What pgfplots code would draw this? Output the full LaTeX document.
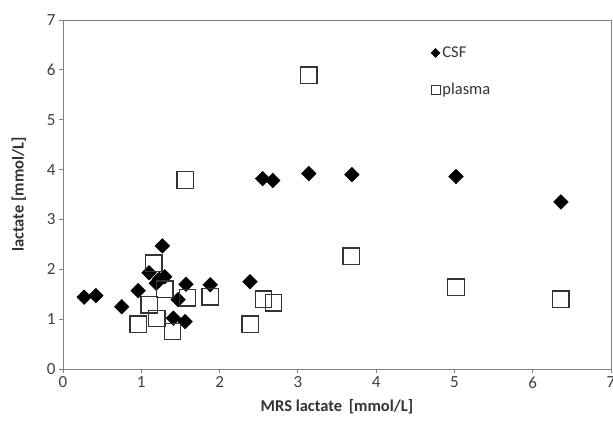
\documentclass[border=0pt]{standalone}
\usepackage{fontspec}
\setmainfont{Carlito}
\usepackage{pgfplots}
\pgfplotsset{compat=1.18}
\begin{document}
\begin{tikzpicture}
\begin{axis}[
  name=ax,
  scale only axis,
  width=548pt, height=349pt,
  xmin=0, xmax=7, ymin=0, ymax=7,
  xtick={0,...,7}, ytick={0,...,7},
  tick align=outside,
  xtick pos=bottom, ytick pos=left,
  major tick length=4pt,
  axis line style={draw=black!50, line width=0.9pt},
  every tick/.style={draw=black!50, line width=0.8pt},
  /pgf/number format/assume math mode=true,
  ticklabel style={font=\fontsize{17}{19}\selectfont, text=black!75},
  xlabel={\textbf{MRS lactate\, [mmol/L]}},
  ylabel={\textbf{lactate [mmol/L]}},
  label style={font=\fontsize{16.5}{18}\selectfont, text=black!80},
  xlabel style={yshift=-4pt},
  ylabel style={yshift=14pt},
]
\addplot[only marks, mark=square*, mark size=5.2pt, mark options={rotate=45, fill=black, draw=black}]
  coordinates {
  (0.27,1.44) (0.42,1.47) (0.75,1.25) (0.96,1.57) (1.10,1.93) (1.19,1.72)
  (1.27,2.47) (1.30,1.85) (1.23,1.80) (1.57,1.70) (1.47,1.39) (1.41,1.02)
  (1.56,0.95) (1.88,1.69) (2.39,1.75) (2.55,3.82) (2.68,3.78) (3.14,3.92)
  (3.69,3.90) (5.02,3.86) (6.36,3.35)
  };
\addplot[only marks, mark=square, mark size=8.2pt, mark options={draw=black!80, line width=1.3pt, fill=none}]
  coordinates {
  (1.56,3.79) (3.14,5.89) (3.68,2.26) (5.02,1.64) (6.36,1.40) (2.39,0.90)
  (2.56,1.40) (2.69,1.33) (1.88,1.45) (1.59,1.43) (0.96,0.90) (1.20,1.01)
  (1.40,0.75) (1.10,1.29) (1.16,2.12) (1.30,1.60)
  };
\end{axis}
\begin{axis}[
  scale only axis, width=548pt, height=349pt,
  xmin=0, xmax=7, ymin=0, ymax=7, hide axis,
  legend style={draw=none, fill=none, at={(0.665,0.935)}, anchor=north west,
    font=\fontsize{16.5}{18}\selectfont, text=black!80, row sep=20pt,
    /tikz/every even column/.style={inner xsep=1pt}},
  legend cell align=left,
]
\addlegendimage{legend image code/.code={\fill[black] (0.3cm,0cm) ++(-4.5pt,0) -- ++(4.5pt,4.5pt) -- ++(4.5pt,-4.5pt) -- ++(-4.5pt,-4.5pt) -- cycle;}}
\addlegendentry{CSF}
\addlegendimage{legend image code/.code={\draw[black!80, line width=0.8pt] (0.3cm,0cm) ++(-4.5pt,-4.5pt) rectangle ++(9pt,9pt);}}
\addlegendentry{plasma}
\end{axis}
\pgfresetboundingbox
\path ([shift={(-63pt,-55pt)}]ax.south west) rectangle ([shift={(2pt,20pt)}]ax.north east);
\end{tikzpicture}
\end{document}
